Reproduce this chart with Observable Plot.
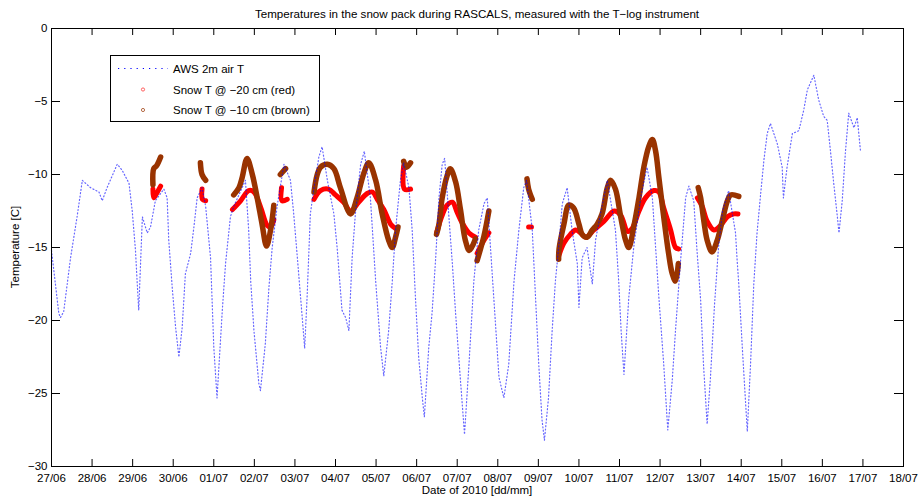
<!DOCTYPE html>
<html><head><meta charset="utf-8">
<script src="https://cdn.jsdelivr.net/npm/d3@7"></script>
<script src="https://cdn.jsdelivr.net/npm/@observablehq/plot@0.6"></script>
<style>
html,body{margin:0;padding:0;background:#fff;}
#chart{width:919px;height:500px;}
</style></head><body><div id="chart"></div>
<script>
// ---- tick labels ----
const xTickLabels = ["27/06","28/06","29/06","30/06","01/07","02/07","03/07","04/07","05/07","06/07","07/07","08/07","09/07","10/07","11/07","12/07","13/07","14/07","15/07","16/07","17/07","18/07"];
const yTickValues = [-30,-25,-20,-15,-10,-5,0];

// ---- AWS 2m air T (days since 27/06 00:00, degC) ----
const airDay = [0.00,0.18,0.22,0.30,0.47,0.63,0.76,0.96,1.17,1.25,1.37,1.62,1.74,1.91,1.99,2.07,2.11,2.15,2.24,2.36,2.44,2.56,2.77,2.85,2.89,2.98,3.06,3.14,3.22,3.30,3.43,3.51,3.59,3.71,3.80,3.92,4.00,4.08,4.21,4.29,4.41,4.49,4.78,4.86,4.91,4.99,5.11,5.15,5.27,5.36,5.44,5.56,5.73,5.89,5.97,6.06,6.18,6.24,6.30,6.38,6.47,6.59,6.67,6.80,6.96,7.04,7.16,7.25,7.33,7.41,7.49,7.62,7.71,7.86,7.99,8.11,8.19,8.31,8.40,8.48,8.60,8.68,8.81,8.89,8.97,9.05,9.14,9.19,9.30,9.38,9.47,9.55,9.63,9.69,9.79,9.88,9.96,10.08,10.18,10.29,10.41,10.53,10.66,10.74,10.82,10.90,11.03,11.15,11.27,11.40,11.52,11.64,11.71,11.85,11.93,12.01,12.09,12.15,12.25,12.34,12.42,12.50,12.59,12.71,12.83,12.96,13.00,13.08,13.20,13.33,13.41,13.53,13.70,13.90,13.98,14.04,14.11,14.23,14.35,14.52,14.68,14.81,14.89,14.97,15.09,15.19,15.30,15.38,15.50,15.63,15.71,15.83,15.91,16.00,16.07,16.16,16.24,16.34,16.44,16.54,16.69,16.86,16.90,16.94,17.03,17.15,17.23,17.31,17.39,17.48,17.56,17.64,17.72,17.89,18.01,18.04,18.13,18.26,18.42,18.54,18.63,18.79,18.91,19.03,19.12,19.20,19.28,19.37,19.41,19.49,19.57,19.65,19.78,19.86,19.94];
const airT = [-15.2,-19.5,-19.8,-19.4,-15.7,-12.9,-10.4,-10.9,-11.2,-11.8,-10.9,-9.3,-9.7,-10.6,-12.5,-15.2,-17.3,-19.3,-12.9,-14.0,-13.6,-11.8,-11.0,-11.6,-14.5,-17.9,-20.5,-22.5,-20.5,-16.8,-15.4,-13.6,-11.6,-10.9,-12.2,-15.7,-21.8,-25.3,-19.3,-16.1,-12.9,-12.2,-10.4,-13.8,-17.3,-20.7,-24.3,-24.8,-21.6,-17.7,-15.0,-12.2,-9.3,-10.4,-12.7,-15.7,-19.8,-21.9,-18.4,-12.7,-10.9,-8.8,-8.1,-10.4,-12.7,-15.0,-19.3,-19.8,-20.7,-15.7,-12.7,-9.3,-8.4,-11.6,-17.3,-21.8,-23.8,-20.7,-17.3,-13.8,-10.4,-9.2,-10.9,-13.8,-18.4,-22.5,-25.3,-26.6,-21.8,-19.5,-15.7,-11.6,-9.3,-8.9,-12.7,-16.1,-19.5,-24.1,-27.8,-23.0,-17.3,-13.8,-12.0,-11.6,-15.0,-18.4,-23.9,-25.3,-23.0,-17.3,-13.8,-10.9,-10.4,-13.8,-18.4,-23.0,-26.8,-28.2,-25.3,-20.7,-17.3,-15.0,-12.0,-10.9,-13.8,-16.1,-19.1,-15.7,-15.0,-17.5,-14.5,-12.7,-10.4,-13.8,-17.3,-20.7,-23.7,-18.4,-15.0,-11.6,-9.5,-11.6,-15.0,-18.4,-23.0,-27.5,-24.1,-20.7,-16.1,-11.6,-10.8,-11.8,-15.2,-18.6,-23.0,-27.1,-24.0,-19.0,-15.0,-12.5,-11.1,-14.0,-15.9,-17.5,-22.0,-27.6,-23.0,-17.5,-14.0,-11.3,-9.0,-7.2,-6.5,-7.9,-9.5,-11.6,-9.5,-7.2,-7.0,-5.6,-4.2,-3.2,-4.9,-6.0,-6.3,-8.4,-10.6,-12.9,-14.0,-11.8,-8.4,-5.8,-6.8,-6.1,-8.4];

// ---- Snow T @ -20 cm (red) ----
const snow20Seg = [1,1,1,1, 2,2,2, 3,3,3,3,3,3,3,3, 4,4,4, 5,5,5,5,5,5,5,5,5,5,5,5,5, 6,6,6, 7,7,7,7,7,7,7,7, 8,8,8, 9,9, 10,10,10,10,10,10,10,10,10,10,10,10,10,10,10,10,10,10,10,10, 11,11,11,11,11,11,11,11];
const snow20Day = [2.50,2.52,2.59,2.69, 3.71,3.72,3.80, 4.46,4.66,4.86,4.99,5.15,5.32,5.40,5.48, 5.67,5.68,5.81, 6.47,6.63,6.83,7.00,7.20,7.37,7.57,7.78,7.91,8.03,8.19,8.36,8.48, 8.68,8.70,8.85, 9.49,9.63,9.75,9.88,10.00,10.12,10.29,10.45, 10.49,10.66,10.78, 11.76,11.83, 12.50,12.63,12.79,12.92,13.04,13.17,13.37,13.62,13.87,14.03,14.20,14.31,14.48,14.64,14.85,14.97,15.09,15.26,15.38,15.46, 15.92,16.04,16.16,16.33,16.49,16.66,16.82,16.92];
const snow20T = [-11.0,-11.6,-11.3,-10.8, -11.0,-11.7,-11.8, -12.4,-11.8,-11.1,-11.2,-12.2,-13.5,-13.6,-13.1, -10.9,-11.8,-11.7, -11.7,-11.1,-11.0,-11.4,-11.9,-12.5,-11.9,-11.3,-11.2,-11.7,-12.4,-13.4,-13.7, -9.4,-11.0,-11.0, -14.0,-12.8,-12.1,-11.9,-12.6,-13.3,-14.0,-14.3, -15.4,-14.5,-14.0, -13.6,-13.6, -15.6,-14.7,-14.1,-13.8,-14.0,-14.3,-13.8,-13.2,-12.5,-12.8,-13.9,-13.7,-12.5,-11.6,-11.1,-11.2,-12.3,-13.8,-15.0,-15.1, -11.6,-12.2,-13.2,-13.8,-13.5,-12.9,-12.7,-12.7];

// ---- Snow T @ -10 cm (brown) ----
const snow10Seg = [1,1,1,1, 2,2,2, 3,3,3,3,3,3,3,3,3,3, 4,4, 5,5,5,5,5,5,5,5,5,5,5,5,5,5,5,5, 6,6,6, 7,7,7,7,7,7,7,7,7,7, 8,8,8, 9,9,9, 10,10,10,10,10,10,10,10,10,10,10,10,10,10,10,10,10,10,10,10,10,10,10,10,10,10,10,10,10, 11,11,11,11,11,11,11,11,11,11];
const snow10Day = [2.50,2.52,2.59,2.69, 3.67,3.71,3.80, 4.49,4.62,4.70,4.82,4.95,5.07,5.19,5.30,5.40,5.48, 5.64,5.77, 6.47,6.55,6.63,6.80,6.96,7.12,7.37,7.53,7.70,7.82,7.99,8.15,8.31,8.40,8.48,8.54, 8.68,8.75,8.85, 9.49,9.55,9.63,9.75,9.83,9.96,10.08,10.20,10.30,10.45, 10.49,10.66,10.78, 11.72,11.76,11.85, 12.50,12.51,12.63,12.75,12.87,13.00,13.08,13.20,13.33,13.45,13.57,13.70,13.78,13.90,14.03,14.15,14.23,14.35,14.48,14.60,14.72,14.81,14.89,14.97,15.09,15.21,15.30,15.38,15.45, 15.94,16.00,16.08,16.16,16.28,16.41,16.53,16.66,16.74,16.94];
const snow10T = [-10.7,-9.6,-9.4,-8.8, -9.2,-10.0,-10.4, -11.4,-10.9,-10.2,-8.9,-10.0,-11.6,-13.4,-14.9,-13.8,-12.1, -10.0,-9.6, -11.2,-10.0,-9.5,-9.3,-9.6,-10.9,-12.7,-11.6,-9.9,-9.2,-10.4,-12.7,-14.5,-15.0,-14.3,-13.6, -9.1,-9.5,-9.2, -14.1,-13.4,-11.6,-10.1,-9.6,-10.5,-12.4,-14.5,-15.2,-14.4, -15.9,-14.2,-12.5, -10.3,-11.0,-11.7, -15.8,-15.1,-13.4,-12.1,-12.3,-13.4,-14.1,-14.3,-13.8,-13.4,-12.7,-10.9,-10.4,-11.0,-12.9,-14.5,-15.0,-13.6,-11.6,-9.5,-8.1,-7.6,-8.4,-10.2,-12.9,-15.4,-16.8,-17.3,-16.1, -10.9,-11.6,-13.2,-14.5,-15.3,-14.5,-13.2,-11.8,-11.4,-11.5];

// ---- build tables ----
const base = Date.UTC(2010, 5, 27);
const toDate = d => new Date(base + d * 864e5);
const air = airDay.map((d, i) => ({date: toDate(d), t: airT[i]}));
const snow20 = snow20Day.map((d, i) => ({date: toDate(d), t: snow20T[i], seg: snow20Seg[i]}));
const snow10 = snow10Day.map((d, i) => ({date: toDate(d), t: snow10T[i], seg: snow10Seg[i]}));
const xTicks = xTickLabels.map(s => { const [dd, mm] = s.split("/").map(Number); return new Date(Date.UTC(2010, mm - 1, dd)); });

const W = 919, H = 500, mL = 51, mR = 16, mT = 28, mB = 34;
const fh = H - mT - mB, fw = W - mL - mR;
const font = "'Liberation Sans', Arial, Helvetica, sans-serif";

const svg = Plot.plot({
  width: W, height: H,
  marginLeft: mL, marginRight: mR, marginTop: mT, marginBottom: mB,
  style: {fontFamily: font, fontSize: "11.5px", background: "#fff", color: "#000"},
  x: {type: "utc", domain: [xTicks[0], xTicks[xTicks.length - 1]]},
  y: {domain: [-30, 0]},
  marks: [
    Plot.line(snow20, {x: "date", y: "t", z: "seg", stroke: "#ff0000", strokeWidth: 5, curve: "catmull-rom", strokeLinecap: "round", strokeLinejoin: "round"}),
    Plot.line(snow10, {x: "date", y: "t", z: "seg", stroke: "#993300", strokeWidth: 5.5, curve: "catmull-rom", strokeLinecap: "round", strokeLinejoin: "round"}),
    Plot.line(air, {x: "date", y: "t", stroke: "#0000ff", strokeWidth: 1.2, strokeDasharray: "1,2.4", strokeOpacity: 0.6}),
    Plot.tickX(xTicks, {x: d => d, insetTop: fh - 7, stroke: "#000"}),
    Plot.tickX(xTicks, {x: d => d, insetBottom: fh - 7, stroke: "#000"}),
    Plot.tickY(yTickValues, {y: d => d, insetRight: fw - 9, stroke: "#000"}),
    Plot.tickY(yTickValues, {y: d => d, insetLeft: fw - 9, stroke: "#000"}),
    Plot.axisX({ticks: xTicks, tickSize: 0, tickPadding: 7, tickFormat: d3.utcFormat("%d/%m"), label: null}),
    Plot.axisY({ticks: yTickValues, tickSize: 0, tickPadding: 4, label: null}),
    Plot.frame({stroke: "#000"})
  ]
});

const s = d3.select(svg);
// title and axis labels
s.append("text").attr("x", 477).attr("y", 18).attr("text-anchor", "middle")
  .attr("font-family", font).attr("font-size", "11.6px").attr("fill", "#000")
  .text("Temperatures in the snow pack during RASCALS, measured with the T\u2212log instrument");
s.append("text").attr("x", 477).attr("y", 494).attr("text-anchor", "middle")
  .attr("font-family", font).attr("font-size", "11.5px").attr("fill", "#000")
  .text("Date of 2010 [dd/mm]");
s.append("text").attr("transform", "translate(19,247) rotate(-90)").attr("text-anchor", "middle")
  .attr("font-family", font).attr("font-size", "11.5px").attr("fill", "#000")
  .text("Temperature [C]");

// legend
const lg = s.append("g").attr("font-family", font).attr("font-size", "11.5px").attr("text-anchor", "start");
lg.append("rect").attr("x", 110.5).attr("y", 55.5).attr("width", 209).attr("height", 66)
  .attr("fill", "#fff").attr("stroke", "#000");
lg.append("line").attr("x1", 118).attr("x2", 168).attr("y1", 68.5).attr("y2", 68.5)
  .attr("stroke", "#0000ff").attr("stroke-width", 1.2).attr("stroke-dasharray", "1.2,5");
lg.append("circle").attr("cx", 143).attr("cy", 89.5).attr("r", 1.6).attr("fill", "none").attr("stroke", "#ff0000").attr("stroke-opacity", 0.6);
lg.append("circle").attr("cx", 143).attr("cy", 110).attr("r", 1.6).attr("fill", "none").attr("stroke", "#993300").attr("stroke-opacity", 0.7);
const legendTexts = ["AWS 2m air T", "Snow T @ \u221220 cm (red)", "Snow T @ \u221210 cm (brown)"];
[68.5, 89.5, 110].forEach((y, i) => {
  lg.append("text").attr("x", 173).attr("y", y).attr("dy", "0.35em").attr("text-anchor", "start").attr("fill", "#000").text(legendTexts[i]);
});

document.getElementById("chart").appendChild(svg);
</script>
</body></html>
